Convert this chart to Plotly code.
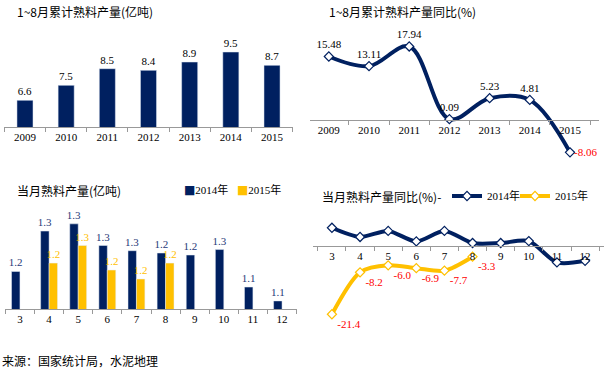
import plotly.graph_objects as go

# ---------------- data ----------------
years = ["2009", "2010", "2011", "2012", "2013", "2014", "2015"]
cum_output = [6.6, 7.5, 8.5, 8.4, 8.9, 9.5, 8.7]           # 亿吨
cum_yoy = [15.48, 13.11, 17.94, 0.09, 5.23, 4.81, -8.06]   # %

months = ["3", "4", "5", "6", "7", "8", "9", "10", "11", "12"]
month_2014 = [1.18, 1.32, 1.345, 1.27, 1.252, 1.244, 1.237, 1.256, 1.126, 1.078]
month_2015 = [None, 1.209, 1.27, 1.185, 1.154, 1.209, None, None, None, None]

yoy_2014 = [5.8, 2.9, 4.8, 1.5, 4.8, 1.0, 1.0, 1.6, -5.1, -4.6]
yoy_2015 = [-21.4, -8.2, -6.0, -6.9, -7.7, -3.3, None, None, None, None]

series_names = ["2014年", "2015年"]

NAVY = "#002060"
GOLD = "#FFC000"
AXIS = "#999999"
NUM_FONT = "Liberation Serif, Times New Roman, Noto Sans CJK SC, serif"
CJK_FONT = "Noto Sans CJK SC, sans-serif"
NUM_SIZE = 11

W, H = 606, 372

def px_x(a, b):
    return [a / W, b / W]

def px_y(top, bottom):
    return [1 - bottom / H, 1 - top / H]

def zero_pos(dom, rng):
    return dom[0] + (0 - rng[0]) / (rng[1] - rng[0]) * (dom[1] - dom[0])

fig = go.Figure()

# ---- Panel 1: cumulative output bars ----
fig.add_trace(go.Bar(
    x=years, y=cum_output, marker_color=NAVY, width=0.39,
    text=[f"{v:.1f}" for v in cum_output], textposition="outside",
    textfont=dict(family=NUM_FONT, size=NUM_SIZE, color="#000000"),
    constraintext="none", cliponaxis=False, xaxis="x", yaxis="y", showlegend=False,
))

# ---- Panel 2: cumulative yoy line ----
fig.add_trace(go.Scatter(
    x=years, y=cum_yoy, mode="lines+markers+text",
    line=dict(color=NAVY, width=4, shape="spline", smoothing=1.0),
    marker=dict(symbol="diamond", size=7, color="white", line=dict(color=NAVY, width=1.2)),
    text=[f"{v:.2f}" if v >= 0 else "" for v in cum_yoy],
    textposition="top center",
    textfont=dict(family=NUM_FONT, size=NUM_SIZE, color="#000000"),
    cliponaxis=False, xaxis="x2", yaxis="y2", showlegend=False,
))
# negative value label drawn in red to the right of its point
for i, v in enumerate(cum_yoy):
    if v < 0:
        fig.add_annotation(text=f"{v:.2f}", x=i, y=v, xref="x2", yref="y2",
                           xanchor="left", yanchor="middle", xshift=2, showarrow=False,
                           font=dict(family=NUM_FONT, size=NUM_SIZE, color="#FF0000"))

# ---- Panel 3: monthly output bars ----
fig.add_trace(go.Bar(
    x=months, y=month_2014, name=series_names[0], marker_color=NAVY,
    texttemplate="%{y:.1f}", textposition="outside",
    textfont=dict(family=NUM_FONT, size=NUM_SIZE, color="#1F3A78"),
    constraintext="none", cliponaxis=False, xaxis="x3", yaxis="y3", showlegend=False,
))
fig.add_trace(go.Bar(
    x=months, y=month_2015, name=series_names[1], marker_color=GOLD,
    texttemplate="%{y:.1f}", textposition="outside",
    textfont=dict(family=NUM_FONT, size=NUM_SIZE, color=GOLD),
    constraintext="none", cliponaxis=False, xaxis="x3", yaxis="y3", showlegend=False,
))

# ---- Panel 4: monthly yoy lines ----
fig.add_trace(go.Scatter(
    x=months, y=yoy_2014, name=series_names[0], mode="lines+markers",
    line=dict(color=NAVY, width=4, shape="spline", smoothing=0.8),
    marker=dict(symbol="diamond", size=7, color="white", line=dict(color=NAVY, width=1.2)),
    cliponaxis=False, xaxis="x4", yaxis="y4", legend="legend2",
))
fig.add_trace(go.Scatter(
    x=months, y=yoy_2015, name=series_names[1], mode="lines+markers+text",
    line=dict(color=GOLD, width=4, shape="spline", smoothing=0.8),
    marker=dict(symbol="diamond", size=7, color="white", line=dict(color=GOLD, width=1.2)),
    text=[f"{v:.1f}" if v is not None else "" for v in yoy_2015],
    textposition="bottom right",
    textfont=dict(family=NUM_FONT, size=NUM_SIZE, color="#FF0000"),
    cliponaxis=False, xaxis="x4", yaxis="y4", legend="legend3",
))

# ---- axes ----
common_x = dict(type="category", showline=True, linecolor=AXIS, linewidth=1,
                ticks="outside", tickson="boundaries", ticklen=4, tickcolor=AXIS,
                tickfont=dict(family=NUM_FONT, size=NUM_SIZE, color="#000000"),
                showgrid=False, zeroline=False, fixedrange=True)
common_y = dict(visible=False, showgrid=False, zeroline=False, fixedrange=True)

d1x, d1y, r1 = px_x(4.4, 292.6), px_y(43.7, 127), [5, 10]
d2x, d2y, r2 = px_x(310, 599), px_y(38.1, 160.2), [-10, 20]
d3x, d3y, r3 = px_x(5.4, 296.6), px_y(208, 309), [1.05, 1.40]
d4x, d4y, r4 = px_x(313, 604), px_y(214.4, 325.7), [-25, 10]

legend_common = dict(orientation="h", y=1 - 196 / H, xanchor="left", yanchor="middle",
                     font=dict(family=NUM_FONT, size=NUM_SIZE, color="#000000"),
                     bgcolor="rgba(0,0,0,0)", itemwidth=30,
                     itemclick=False, itemdoubleclick=False)

fig.update_layout(
    width=W, height=H, margin=dict(l=0, r=0, t=0, b=0),
    paper_bgcolor="white", plot_bgcolor="rgba(0,0,0,0)",
    bargap=0.42, bargroupgap=0.0,
    xaxis=dict(common_x, domain=d1x, anchor="y"),
    yaxis=dict(common_y, domain=d1y, range=r1),
    xaxis2=dict(common_x, domain=d2x, anchor="free", position=zero_pos(d2y, r2)),
    yaxis2=dict(common_y, domain=d2y, range=r2, anchor="x2"),
    xaxis3=dict(common_x, domain=d3x, anchor="y3"),
    yaxis3=dict(common_y, domain=d3y, range=r3, anchor="x3"),
    xaxis4=dict(common_x, domain=d4x, anchor="free", position=zero_pos(d4y, r4)),
    yaxis4=dict(common_y, domain=d4y, range=r4, anchor="x4"),
    legend2=dict(legend_common, x=447 / W),
    legend3=dict(legend_common, x=515 / W),
    showlegend=True,
)

titles = [
    ("1~8月累计熟料产量(亿吨)", 15, 12),
    ("1~8月累计熟料产量同比(%)", 327, 12),
    ("当月熟料产量(亿吨)", 15, 190),
    ("当月熟料产量同比(%)-", 320, 196),
    ("来源：国家统计局，水泥地理", 0, 360),
]
for txt, x, y in titles:
    fig.add_annotation(text=txt, xref="paper", yref="paper", x=x / W, y=1 - y / H,
                       xanchor="left", yanchor="middle", showarrow=False,
                       font=dict(family=CJK_FONT, size=12, color="#000000"))

# legend for the monthly bars (square markers + series names)
for name, color, x in zip(series_names, [NAVY, GOLD], [182, 235]):
    fig.add_annotation(
        text=f"<span style='color:{color};font-family:DejaVu Sans;font-size:12px'>■</span>{name}",
        xref="paper", yref="paper", x=x / W, y=1 - 190 / H,
        xanchor="left", yanchor="middle", showarrow=False,
        font=dict(family=NUM_FONT, size=NUM_SIZE, color="#000000"))

fig.write_html("out.html", config={"displayModeBar": False},
               post_script="document.body.style.margin='0';document.body.style.overflow='hidden';")
